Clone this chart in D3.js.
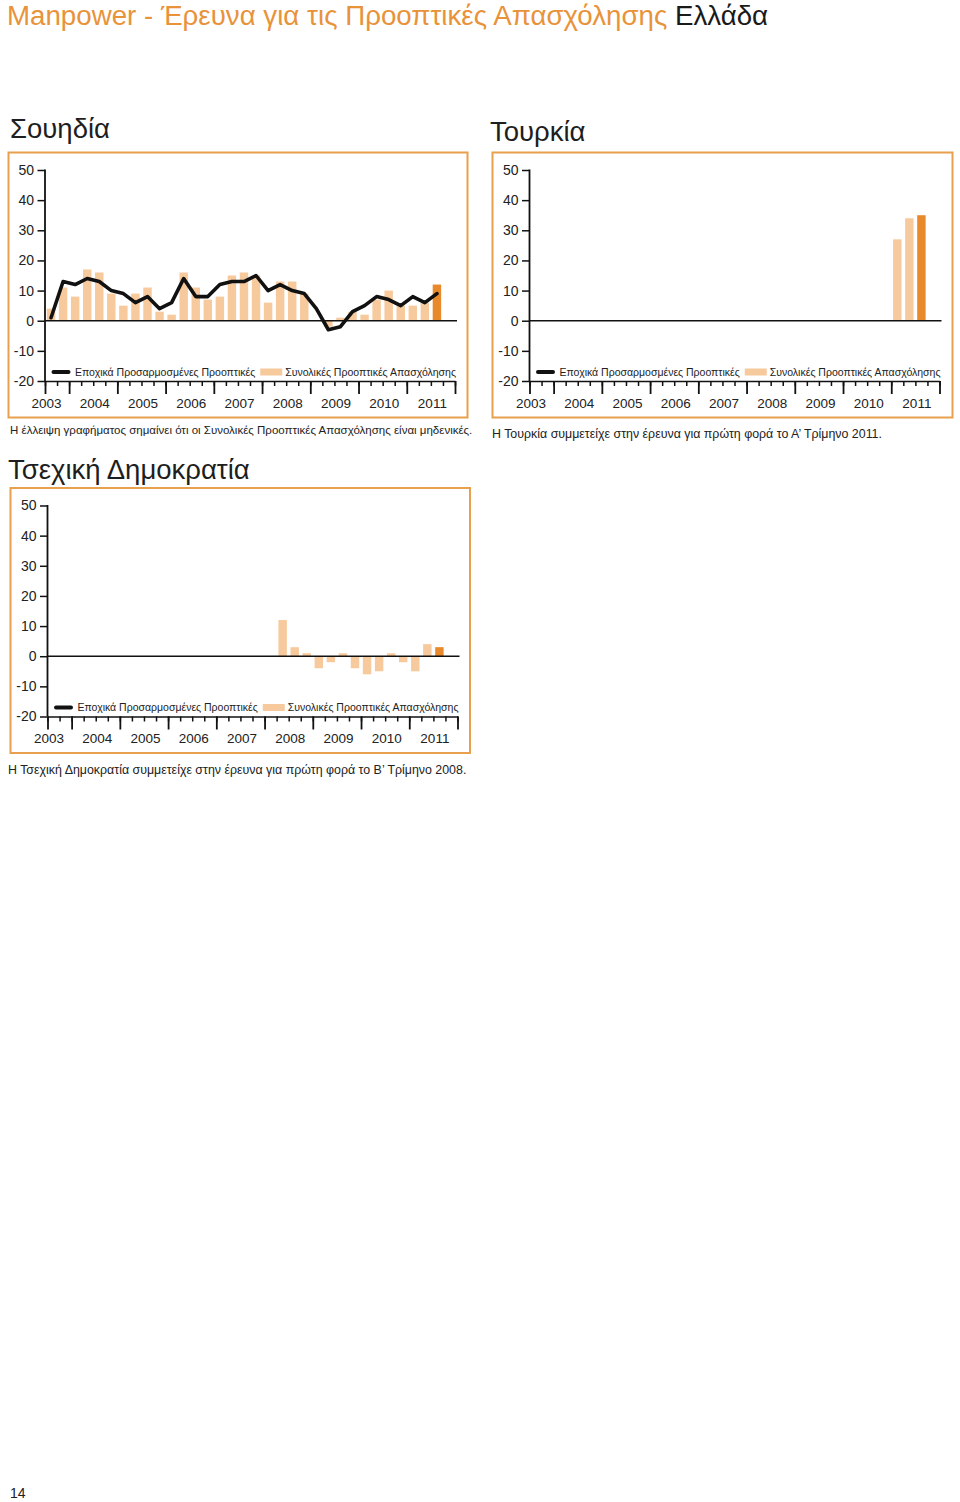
<!DOCTYPE html>
<html><head><meta charset="utf-8">
<script src="https://cdn.jsdelivr.net/npm/d3@7"></script>
<style>
body{margin:0;background:#fff;}
svg text{font-family:"Liberation Sans",Arial,Helvetica,sans-serif;}
</style></head>
<body><svg id="c" width="960" height="1502"></svg>
<script>
// ---------- DATA ----------
const years = ["2003","2004","2005","2006","2007","2008","2009","2010","2011"];
const quarters = ["2003 Q3","2003 Q4",
  "2004 Q1","2004 Q2","2004 Q3","2004 Q4",
  "2005 Q1","2005 Q2","2005 Q3","2005 Q4",
  "2006 Q1","2006 Q2","2006 Q3","2006 Q4",
  "2007 Q1","2007 Q2","2007 Q3","2007 Q4",
  "2008 Q1","2008 Q2","2008 Q3","2008 Q4",
  "2009 Q1","2009 Q2","2009 Q3","2009 Q4",
  "2010 Q1","2010 Q2","2010 Q3","2010 Q4",
  "2011 Q1","2011 Q2","2011 Q3","2011 Q4"];
const yTicks = [50, 40, 30, 20, 10, 0, -10, -20];
const legendLabels = ["Εποχικά Προσαρμοσμένες Προοπτικές", "Συνολικές Προοπτικές Απασχόλησης"];
const currentQuarter = "2011 Q3";

// Sweden (Σουηδία)
const swedenQuarters = quarters.slice(0, 33);
const swedenTotal = [4, 11, 8, 17, 16, 9, 5, 9, 11, 3, 2, 16, 11, 7, 8, 15, 16, 15, 6, 13, 13, 9, 0, -2, 1, 3, 2, 7, 10, 5, 5, 6, 12];
const swedenSeasonal = [1, 13, 12, 14, 13, 10, 9, 6, 8, 4, 6, 14, 8, 8, 12, 13, 13, 15, 10, 12, 10, 9, 4, -3, -2, 3, 5, 8, 7, 5, 8, 6, 9];

// Turkey (Τουρκία)
const turkeyQuarters = ["2011 Q1", "2011 Q2", "2011 Q3"];
const turkeyTotal = [27, 34, 35];

// Czech Republic (Τσεχική Δημοκρατία)
const czechQuarters = ["2008 Q2","2008 Q3","2008 Q4","2009 Q1","2009 Q2","2009 Q3","2009 Q4",
  "2010 Q1","2010 Q2","2010 Q3","2010 Q4","2011 Q1","2011 Q2","2011 Q3"];
const czechTotal = [12, 3, 1, -4, -2, 1, -4, -6, -5, 1, -2, -5, 4, 3];

// ---------- STYLE ----------
const ORANGE = "#E8933A", FRAME = "#E9A04E", BAR = "#F7CA9E", BAR_HI = "#E8892B", INK = "#111";

const svg = d3.select("#c");

// main title
const t = svg.append("text").attr("x", 7).attr("y", 25).attr("font-size", 27.7);
t.append("tspan").attr("fill", ORANGE).text("Manpower - Έρευνα για τις Προοπτικές Απασχόλησης ");
t.append("tspan").attr("fill", "#1a1a1a").text("Ελλάδα");

svg.append("text").attr("x", 10).attr("y", 1498).attr("font-size", 14).attr("fill", "#222").text("14");

function panel(cfg) {
  const g = svg.append("g");
  g.append("text").attr("x", cfg.titleX).attr("y", cfg.titleY).attr("font-size", 27.5)
    .attr("fill", "#1e1e1e").text(cfg.title);
  g.append("rect").attr("x", cfg.fx).attr("y", cfg.fy).attr("width", cfg.fw).attr("height", cfg.fh)
    .attr("fill", "none").attr("stroke", FRAME).attr("stroke-width", 2);
  g.append("text").attr("x", cfg.noteX).attr("y", cfg.noteY).attr("font-size", cfg.noteSize)
    .attr("fill", "#222").text(cfg.note);

  const ax = cfg.ax, yTop = cfg.yTop;
  const y = d3.scaleLinear().domain([-20, 50]).range([yTop + 211, yTop]);
  const W = 410;
  const xb = d3.scaleLinear().domain([0, quarters.length]).range([ax, ax + W]);
  const x = d3.scaleBand().domain(quarters).range([ax, ax + W]).paddingInner(0.3).paddingOuter(0.15);
  const yb = y(-20);

  // bars
  g.append("g").selectAll("rect").data(cfg.q.map((q, i) => ({q, v: cfg.total[i]})).filter(d => d.v !== 0))
    .join("rect")
    .attr("x", d => x(d.q)).attr("width", x.bandwidth())
    .attr("y", d => Math.min(y(d.v), y(0))).attr("height", d => Math.abs(y(d.v) - y(0)))
    .attr("fill", d => d.q === currentQuarter ? BAR_HI : BAR);

  // zero line
  g.append("line").attr("x1", ax).attr("x2", ax + 412).attr("y1", y(0)).attr("y2", y(0))
    .attr("stroke", INK).attr("stroke-width", 1.5);

  // y axis
  const yA = g.append("g").attr("transform", `translate(${ax},0)`)
    .call(d3.axisLeft(y).tickValues(yTicks).tickFormat(d => String(d)).tickSize(7.5).tickPadding(3.5).tickSizeOuter(0));
  yA.select(".domain").remove();
  yA.selectAll("line").attr("stroke", INK).attr("stroke-width", 1.5);
  yA.selectAll("text").attr("font-size", 14).attr("fill", "#222").attr("font-family", null);
  g.append("line").attr("x1", ax).attr("x2", ax).attr("y1", y(50) - 0.5).attr("y2", yb)
    .attr("stroke", INK).attr("stroke-width", 1.8);

  // x axis: minor + major ticks at quarter boundaries
  const minor = g.append("g").attr("transform", `translate(0,${yb})`)
    .call(d3.axisBottom(xb).tickValues(d3.range(0, quarters.length + 1)).tickSize(5).tickFormat("").tickSizeOuter(0));
  minor.select(".domain").attr("stroke", INK).attr("stroke-width", 1.5);
  minor.selectAll("line").attr("stroke", INK).attr("stroke-width", 1.5);
  const yearStarts = quarters.map((q, i) => q.endsWith("Q1") ? i : -1).filter(i => i >= 0);
  const major = g.append("g").attr("transform", `translate(0,${yb})`)
    .call(d3.axisBottom(xb).tickValues([0, ...yearStarts, quarters.length]).tickSize(13).tickFormat("").tickSizeOuter(0));
  major.select(".domain").remove();
  major.selectAll("line").attr("stroke", INK).attr("stroke-width", 1.8);
  // year labels
  const yl = d3.scaleBand().domain(years).range([ax - 2 * (W / quarters.length), ax + W]);
  const lab = g.append("g").attr("transform", `translate(1.5,${yb})`)
    .call(d3.axisBottom(yl).tickSize(0).tickPadding(17));
  lab.select(".domain").remove();
  lab.selectAll("text").attr("font-size", 13.5).attr("fill", "#222").attr("font-family", null);

  // seasonal line
  if (cfg.seasonal) {
    const line = d3.line().x((d, i) => x(cfg.q[i]) + x.bandwidth() / 2).y(d => y(d)).curve(d3.curveLinear);
    g.append("path").datum(cfg.seasonal).attr("d", line).attr("fill", "none")
      .attr("stroke", INK).attr("stroke-width", 3.6).attr("stroke-linejoin", "round").attr("stroke-linecap", "round");
  }

  // legend
  const ly = yb - 9;
  g.append("line").attr("x1", ax + 8.5).attr("x2", ax + 23.5).attr("y1", ly).attr("y2", ly)
    .attr("stroke", INK).attr("stroke-width", 4).attr("stroke-linecap", "round");
  g.append("text").attr("x", ax + 30).attr("y", ly + 3.8).attr("font-size", 10.5).attr("fill", "#222").text(legendLabels[0]);
  const t2 = g.append("text").attr("x", ax + 411).attr("y", ly + 3.8).attr("text-anchor", "end")
    .attr("font-size", 10.5).attr("fill", "#222").text(legendLabels[1]);
  const w2 = t2.node().getComputedTextLength();
  g.append("rect").attr("x", ax + 411 - w2 - 25).attr("y", ly - 3.5).attr("width", 22).attr("height", 7).attr("fill", BAR);
}

panel({title: "Σουηδία", titleX: 10, titleY: 137.5,
  fx: 8.5, fy: 152.5, fw: 459, fh: 265, ax: 45, yTop: 170,
  note: "Η έλλειψη γραφήματος σημαίνει ότι οι Συνολικές Προοπτικές Απασχόλησης είναι μηδενικές.", noteX: 10, noteY: 433.5, noteSize: 11.5,
  q: swedenQuarters, total: swedenTotal, seasonal: swedenSeasonal});

panel({title: "Τουρκία", titleX: 490, titleY: 141,
  fx: 492.5, fy: 152.5, fw: 460, fh: 265, ax: 529.5, yTop: 170,
  note: "Η Τουρκία συμμετείχε στην έρευνα για πρώτη φορά το Α’ Τρίμηνο 2011.", noteX: 492, noteY: 438, noteSize: 12.4,
  q: turkeyQuarters, total: turkeyTotal});

panel({title: "Τσεχική Δημοκρατία", titleX: 8, titleY: 479,
  fx: 10.5, fy: 488, fw: 459.5, fh: 265, ax: 47.5, yTop: 505.5,
  note: "Η Τσεχική Δημοκρατία συμμετείχε στην έρευνα για πρώτη φορά το Β’ Τρίμηνο 2008.", noteX: 8, noteY: 774, noteSize: 12.4,
  q: czechQuarters, total: czechTotal});
</script>
</body></html>
